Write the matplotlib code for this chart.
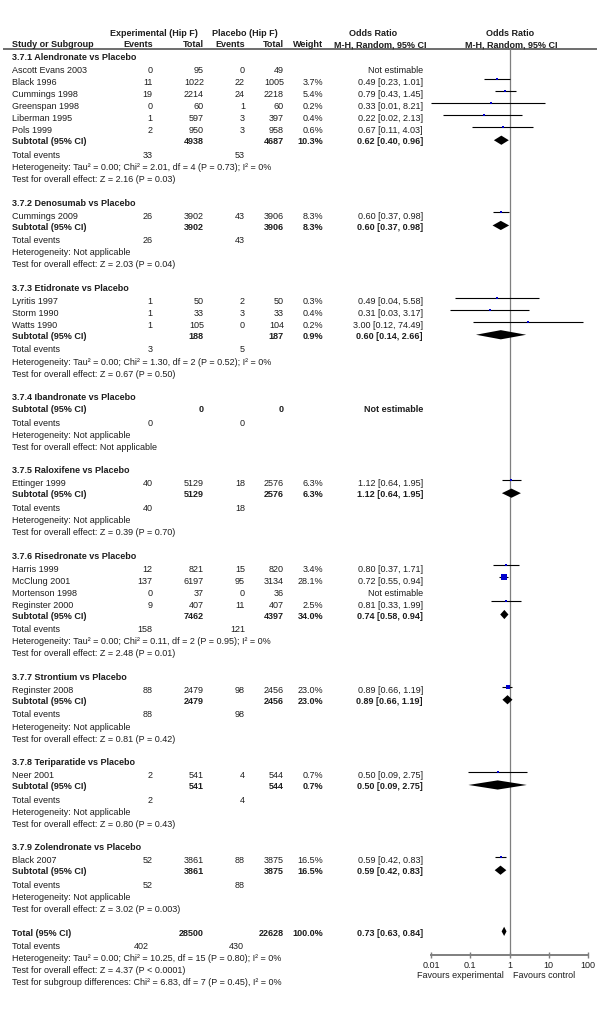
import matplotlib
matplotlib.use("Agg")
import matplotlib.pyplot as plt
from matplotlib.ticker import NullLocator

plt.rcParams['font.family'] = ['Liberation Sans', 'DejaVu Sans']

# ---------------- data ----------------
group_names = [
    "3.7.1 Alendronate vs Placebo",
    "3.7.2 Denosumab vs Placebo",
    "3.7.3 Etidronate vs Placebo",
    "3.7.4 Ibandronate vs Placebo",
    "3.7.5 Raloxifene vs Placebo",
    "3.7.6 Risedronate vs Placebo",
    "3.7.7 Strontium vs Placebo",
    "3.7.8 Teriparatide vs Placebo",
    "3.7.9 Zolendronate vs Placebo",
]
study_group = [0, 0, 0, 0, 0, 0, 1, 2, 2, 2, 4, 5, 5, 5, 5, 6, 7, 8]
study_names = ["Ascott Evans 2003", "Black 1996", "Cummings 1998", "Greenspan 1998",
               "Liberman 1995", "Pols 1999", "Cummings 2009", "Lyritis 1997",
               "Storm 1990", "Watts 1990", "Ettinger 1999", "Harris 1999",
               "McClung 2001", "Mortenson 1998", "Reginster 2000", "Reginster 2008",
               "Neer 2001", "Black 2007"]
exp_events = [0, 11, 19, 0, 1, 2, 26, 1, 1, 1, 40, 12, 137, 0, 9, 88, 2, 52]
exp_total = [95, 1022, 2214, 60, 597, 950, 3902, 50, 33, 105, 5129, 821, 6197, 37, 407, 2479, 541, 3861]
pbo_events = [0, 22, 24, 1, 3, 3, 43, 2, 3, 0, 18, 15, 95, 0, 11, 98, 4, 88]
pbo_total = [49, 1005, 2218, 60, 397, 958, 3906, 50, 33, 104, 2576, 820, 3134, 36, 407, 2456, 544, 3875]
study_weight = [None, 3.7, 5.4, 0.2, 0.4, 0.6, 8.3, 0.3, 0.4, 0.2, 6.3, 3.4, 28.1, None, 2.5, 23.0, 0.7, 16.5]
study_or = [None, 0.49, 0.79, 0.33, 0.22, 0.67, 0.60, 0.49, 0.31, 3.00, 1.12, 0.80, 0.72, None, 0.81, 0.89, 0.50, 0.59]
study_lo = [None, 0.23, 0.43, 0.01, 0.02, 0.11, 0.37, 0.04, 0.03, 0.12, 0.64, 0.37, 0.55, None, 0.33, 0.66, 0.09, 0.42]
study_hi = [None, 1.01, 1.45, 8.21, 2.13, 4.03, 0.98, 5.58, 3.17, 74.49, 1.95, 1.71, 0.94, None, 1.99, 1.19, 2.75, 0.83]

sub_exp_total = [4938, 3902, 188, 0, 5129, 7462, 2479, 541, 3861]
sub_pbo_total = [4687, 3906, 187, 0, 2576, 4397, 2456, 544, 3875]
sub_weight = [10.3, 8.3, 0.9, None, 6.3, 34.0, 23.0, 0.7, 16.5]
sub_or = [0.62, 0.60, 0.60, None, 1.12, 0.74, 0.89, 0.50, 0.59]
sub_lo = [0.40, 0.37, 0.14, None, 0.64, 0.58, 0.66, 0.09, 0.42]
sub_hi = [0.96, 0.98, 2.66, None, 1.95, 0.94, 1.19, 2.75, 0.83]
sub_exp_events = [33, 26, 3, 0, 40, 158, 88, 2, 52]
sub_pbo_events = [53, 43, 5, 0, 18, 121, 98, 4, 88]
sub_het = [
    "Heterogeneity: Tau² = 0.00; Chi² = 2.01, df = 4 (P = 0.73); I² = 0%",
    "Heterogeneity: Not applicable",
    "Heterogeneity: Tau² = 0.00; Chi² = 1.30, df = 2 (P = 0.52); I² = 0%",
    "Heterogeneity: Not applicable",
    "Heterogeneity: Not applicable",
    "Heterogeneity: Tau² = 0.00; Chi² = 0.11, df = 2 (P = 0.95); I² = 0%",
    "Heterogeneity: Not applicable",
    "Heterogeneity: Not applicable",
    "Heterogeneity: Not applicable",
]
sub_test = [
    "Test for overall effect: Z = 2.16 (P = 0.03)",
    "Test for overall effect: Z = 2.03 (P = 0.04)",
    "Test for overall effect: Z = 0.67 (P = 0.50)",
    "Test for overall effect: Not applicable",
    "Test for overall effect: Z = 0.39 (P = 0.70)",
    "Test for overall effect: Z = 2.48 (P = 0.01)",
    "Test for overall effect: Z = 0.81 (P = 0.42)",
    "Test for overall effect: Z = 0.80 (P = 0.43)",
    "Test for overall effect: Z = 3.02 (P = 0.003)",
]
total_exp_total = 28500
total_pbo_total = 22628
total_weight = 100.0
total_or, total_lo, total_hi = 0.73, 0.63, 0.84
total_exp_events = 402
total_pbo_events = 430
total_het = "Heterogeneity: Tau² = 0.00; Chi² = 10.25, df = 15 (P = 0.80); I² = 0%"
total_test = "Test for overall effect: Z = 4.37 (P < 0.0001)"
subgroup_test = "Test for subgroup differences: Chi² = 6.83, df = 7 (P = 0.45), I² = 0%"

axis_ticks = [0.01, 0.1, 1, 10, 100]
axis_ticklabels = ["0.01", "0.1", "1", "10", "100"]

# ---------------- layout ----------------
W, H = 600, 1012
FS = 6.5
TC = '#1e1e1e'
BL = 3.2
X_NAME = 12
X_EXP_EV, X_EXP_TOT, X_PBO_EV, X_PBO_TOT, X_WT, X_OR = 152.5, 204, 245, 284, 323, 423
FX0, FX1 = 431, 588
FYT, FYB = 50, 956

fig = plt.figure(figsize=(6, 10.12), dpi=100)
ax = fig.add_axes([0, 0, 1, 1])
ax.set_xlim(0, W)
ax.set_ylim(H, 0)
ax.axis('off')

fax = fig.add_axes([FX0 / W, 1 - FYB / H, (FX1 - FX0) / W, (FYB - FYT) / H])
fax.set_xscale('log')
fax.set_xlim(0.01, 100)
fax.set_ylim(FYB, FYT)
fax.patch.set_alpha(0)
for s in ['top', 'left', 'right']:
    fax.spines[s].set_visible(False)
fax.spines['bottom'].set_color('#7f7f7f')
fax.spines['bottom'].set_linewidth(1.4)
fax.set_yticks([])
fax.set_xticks(axis_ticks)
fax.set_xticklabels(axis_ticklabels)
fax.xaxis.set_minor_locator(NullLocator())
fax.tick_params(axis='x', direction='inout', length=5, width=1, color='#7f7f7f',
                labelsize=FS, pad=1.2, labelcolor=TC)
fax.axvline(1, color='#7f7f7f', lw=0.9, zorder=1)


def t(x, y, s, ha='left', bold=False):
    ax.text(x, y + BL, s, ha=ha, va='baseline', fontsize=FS,
            fontweight='bold' if bold else 'normal', color=TC)


def fmt_or(o, l, h):
    return f"{o:.2f} [{l:.2f}, {h:.2f}]"


# compute row y positions
rows = []  # (kind, index, y)
y = 57.0
for g in range(len(group_names)):
    rows.append(('header', g, y))
    idx = [i for i, sg in enumerate(study_group) if sg == g]
    for k, i in enumerate(idx):
        y += 13 if k == 0 else 12
        rows.append(('study', i, y))
    y += 11 if idx else 12
    rows.append(('sub', g, y))
    y += 13.5
    rows.append(('te', g, y))
    y += 12
    rows.append(('het', g, y))
    y += 12
    rows.append(('test', g, y))
    y += 23.5
rows.append(('total', 0, y))
y += 13.5
rows.append(('tte', 0, y))
y += 12
rows.append(('thet', 0, y))
y += 11.5
rows.append(('ttest', 0, y))
y += 12.5
rows.append(('tsub', 0, y))
y_first, y_last = 57.0, y
scale = (982 - 57) / (y_last - y_first)
rows = [(k, i, 57 + (yy - 57) * scale) for k, i, yy in rows]

# header
t(154, 33, "Experimental (Hip F)", ha='center', bold=True)
t(245, 33, "Placebo (Hip F)", ha='center', bold=True)
t(373, 33, "Odds Ratio", ha='center', bold=True)
t(510, 33, "Odds Ratio", ha='center', bold=True)
t(X_NAME, 44, "Study or Subgroup", bold=True)
t(X_EXP_EV, 44, "Events", ha='right', bold=True)
t(X_EXP_TOT, 44, "Total", ha='right', bold=True)
t(X_PBO_EV, 44, "Events", ha='right', bold=True)
t(X_PBO_TOT, 44, "Total", ha='right', bold=True)
t(X_WT, 44, "Weight", ha='right', bold=True)
t(380, 44, "M-H, Random, 95% CI", ha='center', bold=True)
t(511, 44, "M-H, Random, 95% CI", ha='center', bold=True)
ax.plot([3, 597], [50, 50], color='#555555', lw=1.2, solid_capstyle='butt')

DH = 4.6  # diamond half-height (px)


def diamond(o, l, h, yy):
    fax.fill([l, o, h, o], [yy, yy - DH, yy, yy + DH], color='black', lw=0, zorder=4)


for kind, i, yy in rows:
    if kind == 'header':
        t(X_NAME, yy, group_names[i], bold=True)
    elif kind == 'study':
        t(X_NAME, yy, study_names[i])
        t(X_EXP_EV, yy, str(exp_events[i]), ha='right')
        t(X_EXP_TOT, yy, str(exp_total[i]), ha='right')
        t(X_PBO_EV, yy, str(pbo_events[i]), ha='right')
        t(X_PBO_TOT, yy, str(pbo_total[i]), ha='right')
        if study_or[i] is None:
            t(X_OR, yy, "Not estimable", ha='right')
        else:
            t(X_WT, yy, f"{study_weight[i]:.1f}%", ha='right')
            t(X_OR, yy, fmt_or(study_or[i], study_lo[i], study_hi[i]), ha='right')
            yl = yy - 2
            fax.plot([study_lo[i], study_hi[i]], [yl, yl], color='black', lw=0.8,
                     zorder=3, clip_on=False, solid_capstyle='butt')
            side = max(2.0, 0.18 * study_weight[i]) * 0.72
            fax.scatter([study_or[i]], [yl], marker='s', s=side ** 2, color='#0000cc',
                        lw=0, zorder=5, clip_on=False)
    elif kind == 'sub':
        t(X_NAME, yy, "Subtotal (95% CI)", bold=True)
        t(X_EXP_TOT, yy, str(sub_exp_total[i]), ha='right', bold=True)
        t(X_PBO_TOT, yy, str(sub_pbo_total[i]), ha='right', bold=True)
        if sub_or[i] is None:
            t(X_OR, yy, "Not estimable", ha='right', bold=True)
        else:
            t(X_WT, yy, f"{sub_weight[i]:.1f}%", ha='right', bold=True)
            t(X_OR, yy, fmt_or(sub_or[i], sub_lo[i], sub_hi[i]), ha='right', bold=True)
            diamond(sub_or[i], sub_lo[i], sub_hi[i], yy)
    elif kind == 'te':
        t(X_NAME, yy, "Total events")
        t(X_EXP_EV, yy, str(sub_exp_events[i]), ha='right')
        t(X_PBO_EV, yy, str(sub_pbo_events[i]), ha='right')
    elif kind == 'het':
        t(X_NAME, yy, sub_het[i])
    elif kind == 'test':
        t(X_NAME, yy, sub_test[i])
    elif kind == 'total':
        t(X_NAME, yy, "Total (95% CI)", bold=True)
        t(X_EXP_TOT, yy, str(total_exp_total), ha='right', bold=True)
        t(X_PBO_TOT, yy, str(total_pbo_total), ha='right', bold=True)
        t(X_WT, yy, f"{total_weight:.1f}%", ha='right', bold=True)
        t(X_OR, yy, fmt_or(total_or, total_lo, total_hi), ha='right', bold=True)
        diamond(total_or, total_lo, total_hi, yy)
    elif kind == 'tte':
        t(X_NAME, yy, "Total events")
        t(X_EXP_EV - 4, yy, str(total_exp_events), ha='right')
        t(X_PBO_EV - 1, yy, str(total_pbo_events), ha='right')
    elif kind == 'thet':
        t(X_NAME, yy, total_het)
    elif kind == 'ttest':
        t(X_NAME, yy, total_test)
    elif kind == 'tsub':
        t(X_NAME, yy, subgroup_test)

t(504, 975, "Favours experimental", ha='right')
t(513, 975, "Favours control", ha='left')

fig.savefig("out.png", dpi=100)
